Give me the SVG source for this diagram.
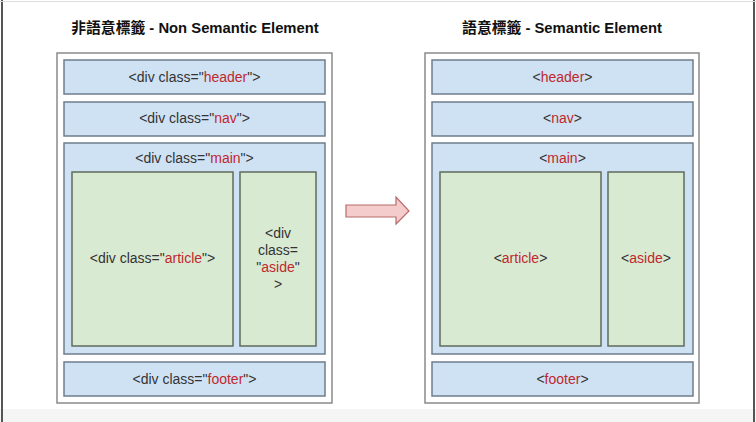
<svg xmlns="http://www.w3.org/2000/svg" width="756" height="422" viewBox="0 0 756 422">
<style>
.frame{fill:#fff;stroke:#8a8a8a;stroke-width:1.5}
.blue{fill:#cfe2f3;stroke:#6f7d8a;stroke-width:1.5}
.green{fill:#d9ead3;stroke:#5f6b5c;stroke-width:1.5}
.t{font-family:"Liberation Sans",Arial,sans-serif;font-size:14px;fill:#333;text-anchor:middle}
.r{fill:#c0282d}
.title{font-family:"Liberation Sans","Noto Sans CJK TC",Arial,sans-serif;font-size:14.8px;font-weight:bold;fill:#111;text-anchor:middle}
</style>
<rect x="0" y="0" width="756" height="422" fill="#fff"/>
<rect x="0" y="409" width="756" height="13" fill="#f5f5f5"/>
<line x1="2" y1="0" x2="2" y2="422" stroke="#555" stroke-width="2"/>
<line x1="754" y1="0" x2="754" y2="422" stroke="#555" stroke-width="2"/>
<line x1="0" y1="1.5" x2="756" y2="1.5" stroke="#ddd" stroke-width="1"/>

<g id="left">
<text class="title" x="195" y="33">非語意標籤 - Non Semantic Element</text>
<rect class="frame" x="57" y="53" width="275" height="350"/>
<g id="l-header"><rect class="blue" x="64" y="60" width="261" height="34"/><text class="t" x="194.5" y="82">&lt;div class="<tspan class="r">header</tspan>"&gt;</text></g>
<g id="l-nav"><rect class="blue" x="64" y="102" width="261" height="34"/><text class="t" x="194.5" y="123">&lt;div class="<tspan class="r">nav</tspan>"&gt;</text></g>
<g id="l-main"><rect class="blue" x="64" y="143" width="261" height="211"/><text class="t" x="194.5" y="163">&lt;div class="<tspan class="r">main</tspan>"&gt;</text></g>
<g id="l-article"><rect class="green" x="72" y="172" width="161" height="174"/><text class="t" x="152.5" y="263">&lt;div class="<tspan class="r">article</tspan>"&gt;</text></g>
<g id="l-aside"><rect class="green" x="240" y="172" width="76" height="174"/>
<text class="t" x="278" y="238">&lt;div</text>
<text class="t" x="278" y="255">class=</text>
<text class="t" x="278" y="272">"<tspan class="r">aside</tspan>"</text>
<text class="t" x="278" y="289">&gt;</text></g>
<g id="l-footer"><rect class="blue" x="64" y="362" width="261" height="34"/><text class="t" x="194.5" y="384">&lt;div class="<tspan class="r">footer</tspan>"&gt;</text></g>
</g>

<g id="connectors">
<polygon points="346,205 396,205 396,197 409,211 396,224 396,217 346,217" fill="#f4cccc" stroke="#b86a6a" stroke-width="1.2"/>
</g>

<g id="right">
<text class="title" x="562" y="33">語意標籤 - Semantic Element</text>
<rect class="frame" x="425" y="53" width="274" height="350"/>
<g id="r-header"><rect class="blue" x="432" y="60" width="261" height="34"/><text class="t" x="562.5" y="82">&lt;<tspan class="r">header</tspan>&gt;</text></g>
<g id="r-nav"><rect class="blue" x="432" y="102" width="261" height="34"/><text class="t" x="562.5" y="123">&lt;<tspan class="r">nav</tspan>&gt;</text></g>
<g id="r-main"><rect class="blue" x="432" y="143" width="261" height="211"/><text class="t" x="562.5" y="163">&lt;<tspan class="r">main</tspan>&gt;</text></g>
<g id="r-article"><rect class="green" x="440" y="172" width="161" height="174"/><text class="t" x="520.5" y="263">&lt;<tspan class="r">article</tspan>&gt;</text></g>
<g id="r-aside"><rect class="green" x="608" y="172" width="76" height="174"/><text class="t" x="646" y="263">&lt;<tspan class="r">aside</tspan>&gt;</text></g>
<g id="r-footer"><rect class="blue" x="432" y="362" width="261" height="34"/><text class="t" x="562.5" y="384">&lt;<tspan class="r">footer</tspan>&gt;</text></g>
</g>
</svg>
